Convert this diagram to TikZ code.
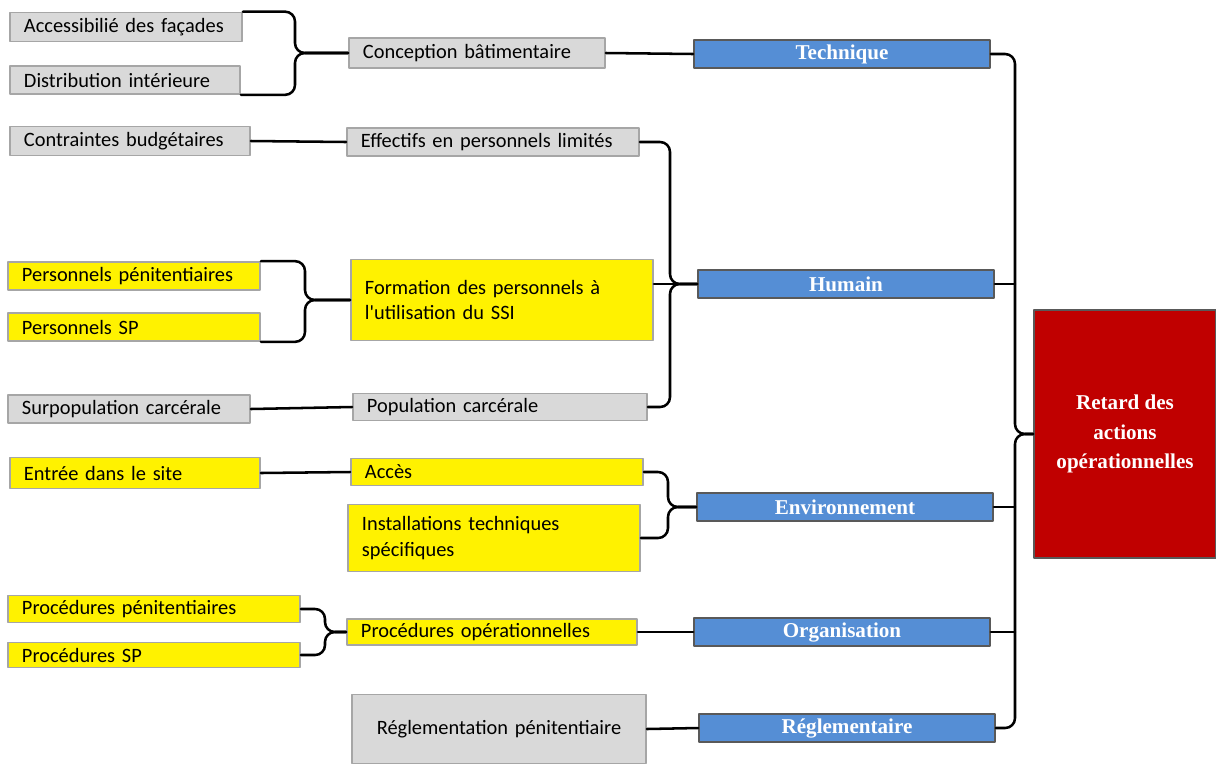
\documentclass[tikz,border=0pt]{standalone}
\usepackage{fontspec}
\usepackage{tikz}
\usepackage{xcolor}
\usetikzlibrary{calc}
\newfontfamily\causefont{Carlito}
\newfontfamily\axisfont{Liberation Serif}
\definecolor{fishblue}{RGB}{85,142,213}
\definecolor{fishred}{RGB}{192,0,0}
\tikzset{
  every picture/.append style={line cap=round,line join=round},
  fish cause/.style={draw=black!35,line width=1.2pt,fill=black!15,align=left,inner xsep=0.35cm,inner ysep=0pt,font=\causefont\fontsize{14.5}{18}\selectfont},
  fish yellow/.style={fish cause,fill=yellow},
  fish size/.style 2 args={text width=#1,minimum height=#2},
  fish axis/.style={draw=black!65,line width=1.2pt,fill=fishblue,text=white,inner sep=0pt,minimum width=7.4cm,minimum height=0.7cm,font=\axisfont\bfseries\fontsize{15}{18}\selectfont},
  fish effect/.style={draw=black!65,line width=1.2pt,fill=fishred,text=white,align=center,inner sep=0pt,minimum width=4.55cm,minimum height=6.2cm,font=\axisfont\bfseries\fontsize{15}{21}\selectfont},
  fish link/.style={line width=1.8pt,rounded corners=7pt}
}

\begin{document}
\begin{tikzpicture}[x=0.025cm,y=-0.025cm]
\useasboundingbox (0,0) rectangle (1216,765);
% sub-causes
\node[fish cause,fish size={5.1cm}{0.725cm}] (acc) at (126,27) {Accessibilié des façades};
\node[fish cause,fish size={5.05cm}{0.7cm}] (dist) at (125,80) {Distribution intérieure};
\node[fish cause,fish size={5.3cm}{0.725cm}] (budg) at (130,141) {Contraintes budgétaires};
\node[fish yellow,fish size={5.6cm}{0.7cm}] (perspen) at (134,276) {Personnels pénitentiaires};
\node[fish yellow,fish size={5.6cm}{0.7cm}] (perssp) at (134,327) {Personnels SP};
\node[fish cause,fish size={5.35cm}{0.7cm}] (surpop) at (129,409) {Surpopulation carcérale};
\node[fish yellow,fish size={5.55cm}{0.775cm}] (entree) at (135,473) {Entrée dans le site};
\node[fish yellow,fish size={6.6cm}{0.675cm}] (procpen) at (154,609) {Procédures pénitentiaires};
\node[fish yellow,fish size={6.6cm}{0.625cm}] (procsp) at (154,655) {Procédures SP};
% causes
\node[fish cause,fish size={5.7cm}{0.75cm}] (conc) at (477,53) {Conception bâtimentaire};
\node[fish cause,fish size={6.6cm}{0.7cm}] (eff) at (493,142) {Effectifs en personnels limités};
\node[fish yellow,fish size={6.85cm}{2.025cm}] (form) at (502,300) {Formation des personnels à\\l'utilisation du SSI};
\node[fish cause,fish size={6.65cm}{0.675cm}] (pop) at (500,407) {Population carcérale};
\node[fish yellow,fish size={6.6cm}{0.675cm}] (acces) at (497,472) {Accès};
\node[fish yellow,fish size={6.6cm}{1.675cm}] (install) at (494,538) {Installations techniques\\spécifiques};
\node[fish yellow,fish size={6.55cm}{0.65cm}] (procop) at (492,632) {Procédures opérationnelles};
\node[fish cause,fish size={6.65cm}{1.725cm},align=center] (regpen) at (499,729) {Réglementation pénitentiaire};
% families and effect
\node[fish axis] (tech) at (842,54) {Technique};
\node[fish axis] (hum) at (846,284) {Humain};
\node[fish axis] (env) at (845,507) {Environnement};
\node[fish axis] (orga) at (842,632) {Organisation};
\node[fish axis] (regl) at (847,728) {Réglementaire};
\node[fish effect] (retard) at (1125,434) {Retard des\\actions\\opérationnelles};
% brace spines
\coordinate (kA) at (295,0);
\coordinate (kB) at (305,0);
\coordinate (kC) at (670,0);
\coordinate (kD) at (668,0);
\coordinate (kE) at (325,0);
\coordinate (bus) at (1015,0);
% braces
\draw[fish link] (acc.north east) -- (acc.north east -| kA) -- (kA |- conc.west) -- (conc.west);
\draw[fish link] (dist.south east) -- (dist.south east -| kA) -- (kA |- conc.west) -- (conc.west);
\draw[fish link] (perspen.north east) -- (perspen.north east -| kB) -- (kB |- form.west) -- (form.west);
\draw[fish link] (perssp.south east) -- (perssp.south east -| kB) -- (kB |- form.west) -- (form.west);
\draw[fish link] (eff.east) -- (eff.east -| kC) -- (kC |- hum.west) -- (hum.west);
\draw[fish link] (pop.east) -- (pop.east -| kC) -- (kC |- hum.west) -- (hum.west);
\draw[fish link] (form.east |- hum.west) -- (hum.west);
\draw[fish link] (acces.east) -- (acces.east -| kD) -- (kD |- env.west) -- (env.west);
\draw[fish link] (install.east) -- (install.east -| kD) -- (kD |- env.west) -- (env.west);
\draw[fish link] (procpen.east) -- (procpen.east -| kE) -- (kE |- procop.west) -- (procop.west);
\draw[fish link] (procsp.east) -- (procsp.east -| kE) -- (kE |- procop.west) -- (procop.west);
% straight links
\draw[fish link] (budg.east) -- (eff.west);
\draw[fish link] (surpop.east) -- (pop.west);
\draw[fish link] (entree.east) -- (acces.west);
\draw[fish link] (conc.east) -- (tech.west);
\draw[fish link] (procop.east) -- (orga.west);
\draw[fish link] (regpen.east) -- (regl.west);
% main bus
\draw[fish link] (tech.east) -- (tech.east -| bus) -- (bus |- retard.west) -- (retard.west);
\draw[fish link] (regl.east) -- (regl.east -| bus) -- (bus |- retard.west) -- (retard.west);
\draw[fish link] (hum.east) -- (hum.east -| bus);
\draw[fish link] (env.east) -- (env.east -| bus);
\draw[fish link] (orga.east) -- (orga.east -| bus);
\end{tikzpicture}
\end{document}
